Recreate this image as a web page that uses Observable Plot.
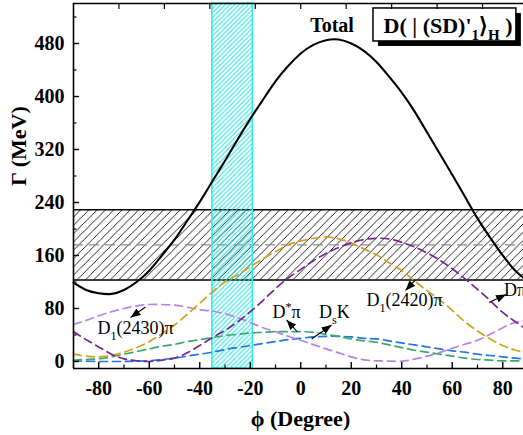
<!DOCTYPE html>
<html><head><meta charset="utf-8">
<script src="https://cdn.jsdelivr.net/npm/d3@7"></script>
<script src="https://cdn.jsdelivr.net/npm/@observablehq/plot@0.6"></script>
<style>
html,body{margin:0;padding:0;overflow:hidden;background:#fff;}
#chart svg{display:block;}
</style></head><body>
<svg width="0" height="0" style="position:absolute">
<defs>
<pattern id="hatchK" patternUnits="userSpaceOnUse" width="8.3" height="8.3">
<path d="M-2,2 L2,-2 M0,8.3 L8.3,0 M6.3,10.3 L10.3,6.3" stroke="#000" stroke-width="0.85" fill="none"/>
</pattern>
<pattern id="hatchC" patternUnits="userSpaceOnUse" width="4.6" height="4.6">
<path d="M-1,1 L1,-1 M0,4.6 L4.6,0 M3.6,5.6 L5.6,3.6" stroke="#1fe3e3" stroke-width="1" fill="none"/>
</pattern>
<marker id="ah" viewBox="0 0 10 8" refX="10" refY="4" markerWidth="10" markerHeight="8" markerUnits="userSpaceOnUse" orient="auto">
<path d="M0,0L10,4L0,8z" fill="#000"/>
</marker>
</defs>
</svg>
<div id="chart"></div>
<script>
// mixing angle (degrees)
const phi = [-90,-85,-80,-75,-70,-65,-60,-55,-50,-45,-40,-35,-30,-25,-20,-15,-10,-5,0,5,10,15,20,25,30,35,40,45,50,55,60,65,70,75,80,85,90];
// partial and total widths (MeV)
const total   = [119,108,103,102,108,120,137,160,184,212,241,272,303,335,366,395,423,446,465,478,485,486,480,469,452,430,406,378,346,314,282,249,216,187,160,137,121];
const dPi     = [45,33,22,11,4,1,0,2,5,13,24,36,47,60,75,92,110,126,139,152,163,172,179,184,186,185,180,173,164,153,140,125,109,92,74,60,47];
const d1_2420 = [11,8,7,9,14,21,30,42,55,71,88,105,120,131,143,155,166,176,182,186,188,185,179,170,161,149,137,122,107,93,77,60,46,34,24,17,12];
const d1_2430 = [56,62,69,75,80,84,86,86,85,82,78,76,72,66,59,51,45,38,32,25.5,19,13,7,2.5,1,0.5,0.5,3.5,8,13.5,20,26,32,41,51,59,63];
const dStarPi = [2,3,4,7,11,15,19,23,26,30,33,36,39,41,43,44,45,45,45,44,41,38,34,31,29,25,21,17,14,11,8,5,3,2,1,1,1];
const dsK     = [1,0.5,0,0,0,0.5,1,3,5,8,11,14,18,21,24,27,30,33,35,37,38,38,37,35,34,31,28,25,22,19,16,14,11,9,7,5,3];
// bands
const expBand = [123, 229];
const expCenter = [176];
const phiBand = [-35, -19];
// ticks
const xMajor = [-80,-60,-40,-20,0,20,40,60,80];
const xMinor = [-90,-70,-50,-30,-10,10,30,50,70,90];
const xTop = [-72,-54,-36,-18,0,18,36,54,72];
const yMajor = [0,80,160,240,320,400,480];
const yMinor = [40,120,200,280,360,440,520];
// annotations
const labelText = ["D_{1}(2430)π","D_{1}(2420)π","Dπ","D^{*}π","D_{s}K"];
const labelX = [-80.5, 26.0, 80.5, -11.2, 7.2];
const labelY = [40.8, 83.0, 99.6, 64.9, 64.9];
const arrowX1 = [-61.5, 45.4, 74.6, -1.3, 4.3];
const arrowY1 = [82.3, 123.0, 89.1, 44.5, 34.0];
const arrowX2 = [-67.4, 41.5, 81.3, -5.6, 12.2];
const arrowY2 = [66.4, 107.2, 101.1, 62.7, 55.1];
const legendText = ["D( | (SD)'_{1}⟩_{H} )"];
const legendBox = [28.8, 85.4, 483.1, 532.9];

const Y0 = -10.6, Y1 = 540.4;
const serif = "'Liberation Serif','Times New Roman',serif";
const idx = d3.range(labelText.length);

function series(vals, color) {
  return Plot.line(vals, {x: (d, i) => phi[i], y: d => d, stroke: color, strokeWidth: 1.7,
    strokeDasharray: "8,5", curve: "natural"});
}

const chart = Plot.plot({
  width: 523, height: 435,
  marginTop: 3, marginBottom: 67, marginLeft: 73, marginRight: 0,
  x: {domain: [-90, 90], range: [73, 527.5]},
  y: {domain: [Y0, Y1]},
  style: {fontFamily: serif, background: "white", color: "#000", overflow: "visible"},
  marks: [
    Plot.rect([expBand], {x1: -90, x2: 90, y1: d => d[0], y2: d => d[1], fill: "url(#hatchK)"}),
    Plot.ruleY(expBand, {stroke: "#000", strokeWidth: 1.5}),
    Plot.ruleY(expCenter, {stroke: "#8c8c8c", strokeWidth: 1.3, strokeDasharray: "10,6"}),
    Plot.rect([phiBand], {x1: d => d[0], x2: d => d[1], y1: Y0, y2: Y1, fill: "url(#hatchC)", stroke: "#2eeeee", strokeWidth: 1.6}),
    series(dsK, "#2277e0"),
    series(dStarPi, "#3aa86b"),
    series(d1_2430, "#b784e6"),
    series(d1_2420, "#d4a020"),
    series(dPi, "#7a2396"),
    Plot.line(total, {x: (d, i) => phi[i], y: d => d, stroke: "#000", strokeWidth: 2.1, curve: "natural"}),
    Plot.link(idx, {x1: i => arrowX1[i], y1: i => arrowY1[i], x2: i => arrowX2[i], y2: i => arrowY2[i],
      stroke: "#000", strokeWidth: 1.1, className: "annot-arrow", ariaDescription: "annot-arrow"}),
    Plot.text(idx, {x: i => labelX[i], y: i => labelY[i], text: i => labelText[i], fontSize: 18,
      textAnchor: "start", className: "rich-label", ariaDescription: "rich-label"}),
    Plot.text(["Total"], {x: 12.4, y: 506.5, text: d => d, fontSize: 20, fontWeight: "bold", textAnchor: "middle"}),
    Plot.rect([legendBox], {x1: d => d[0], x2: d => d[1], y1: d => d[2], y2: d => d[3], fill: "#000", dx: 5, dy: 5}),
    Plot.rect([legendBox], {x1: d => d[0], x2: d => d[1], y1: d => d[2], y2: d => d[3], fill: "#fff", stroke: "#000", strokeWidth: 1.5}),
    Plot.text(legendText, {x: 32.8, y: 495.2, text: d => d, fontSize: 22, fontWeight: "bold", textAnchor: "start",
      className: "rich-label", ariaDescription: "rich-label"}),
    // frame lines
    Plot.ruleX([-90], {stroke: "#000", strokeWidth: 1.6}),
    Plot.ruleY([Y0, Y1], {stroke: "#000", strokeWidth: 1.6}),
    // inward ticks
    Plot.axisX(xMajor, {tickSize: 6, dy: -6, tickFormat: () => "", label: null, strokeWidth: 1.4}),
    Plot.axisX(xMinor, {tickSize: 3.5, dy: -3.5, tickFormat: () => "", label: null, strokeWidth: 1.2}),
    Plot.axisX(xTop, {anchor: "top", tickSize: 5, dy: 5, tickFormat: () => "", label: null, strokeWidth: 1.2}),
    Plot.axisY(yMajor, {tickSize: 6, dx: 6, tickFormat: () => "", label: null, strokeWidth: 1.4}),
    Plot.axisY(yMinor, {tickSize: 3.5, dx: 3.5, tickFormat: () => "", label: null, strokeWidth: 1.2}),
    // tick labels
    Plot.axisX(xMajor, {tickSize: 0, tickPadding: 12, tickFormat: d => String(d), label: null, fontSize: 20, fontWeight: "bold"}),
    Plot.axisY(yMajor, {tickSize: 0, tickPadding: 9, tickFormat: d => String(d), label: null, fontSize: 20, fontWeight: "bold"}),
    // axis titles
    Plot.text(["ϕ (Degree)"], {frameAnchor: "bottom", lineAnchor: "middle", dx: 2, dy: 50, text: d => d, fontSize: 22, fontWeight: "bold"}),
    Plot.text(["Γ (MeV)"], {frameAnchor: "left", dx: -55, rotate: -90, text: d => d, fontSize: 22, fontWeight: "bold"})
  ]
});
document.getElementById("chart").append(chart);

const NS = "http://www.w3.org/2000/svg";
function groupsOf(name) {
  const set = new Set();
  chart.querySelectorAll(`g.${name}, g[aria-description="${name}"]`).forEach(g => set.add(g));
  return [...set];
}
groupsOf("annot-arrow").forEach(g => g.querySelectorAll("path, line")
  .forEach(p => p.setAttribute("marker-end", "url(#ah)")));

function rich(t) {
  const s = t.textContent;
  const fs = parseFloat(getComputedStyle(t).fontSize) || 18;
  t.textContent = "";
  let shift = 0;
  const re = /([_^])\{([^}]*)\}|([^_^]+)/g;
  let m;
  while ((m = re.exec(s))) {
    const ts = document.createElementNS(NS, "tspan");
    if (m[1]) {
      const target = m[1] === "_" ? fs * 0.3 : -fs * 0.4;
      ts.setAttribute("dy", target - shift);
      ts.setAttribute("font-size", fs * 0.68);
      ts.textContent = m[2];
      shift = target;
    } else {
      if (shift) ts.setAttribute("dy", -shift);
      shift = 0;
      ts.textContent = m[3];
    }
    t.appendChild(ts);
  }
  if (t.getAttribute("transform")) { t.setAttribute("y", "0"); t.removeAttribute("dy"); }
}
groupsOf("rich-label").forEach(g => g.querySelectorAll("text").forEach(rich));
</script>
</body></html>
